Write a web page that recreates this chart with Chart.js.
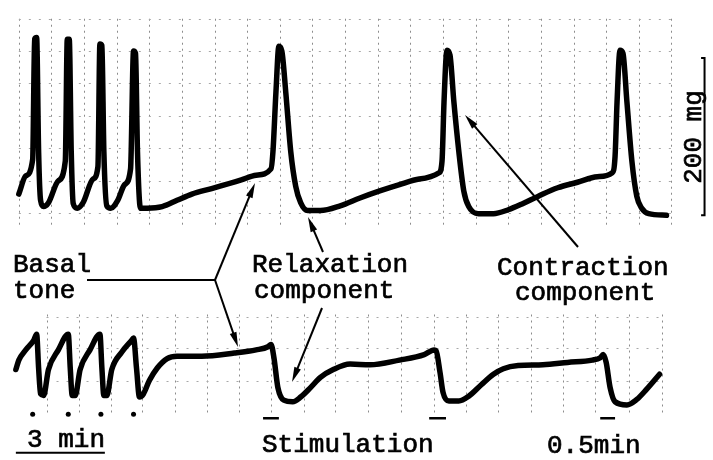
<!DOCTYPE html>
<html>
<head>
<meta charset="utf-8">
<script src="https://cdn.jsdelivr.net/npm/chart.js@4.4.1/dist/chart.umd.min.js"></script>
<style>
html, body { margin: 0; padding: 0; background: #fff; }
canvas { display: block; }
</style>
</head>
<body>
<canvas id="myChart" width="713" height="460"></canvas>
<script>
// time in seconds (3 min bar = 180 s), tension in mg
var topTime = [0, 14, 28, 32, 36, 40, 44, 50, 60, 80, 94, 98, 102, 106, 110, 118, 130, 150, 160, 164, 168, 172, 178, 186, 200, 214, 226, 232, 236, 240, 246, 260, 290, 320, 350, 390, 450, 480, 510, 514, 520, 526, 532, 540, 550, 560, 570, 584, 610, 650, 690, 730, 770, 810, 850, 856, 860, 866, 872, 880, 890, 900, 910, 930, 960, 990, 1020, 1050, 1090, 1130, 1170, 1200, 1206, 1210, 1216, 1222, 1230, 1240, 1250, 1260, 1274, 1310];
var topTension = [27, 50, 71, 224, 226, 81, 19, 11, 16, 44, 69, 224, 224, 81, 15, 9, 16, 46, 62, 218, 216, 81, 12, 9, 19, 39, 59, 209, 206, 81, 9, 9, 11, 19, 27, 34, 45, 51, 59, 81, 156, 215, 209, 156, 81, 37, 16, 6, 6, 12, 22, 31, 39, 46, 54, 69, 144, 210, 204, 144, 81, 31, 11, 2, 2, 7, 15, 24, 35, 42, 49, 54, 75, 144, 210, 206, 144, 69, 24, 9, 2, 0];

var bottomTime = [-6, 0, 14, 30, 36, 40, 44, 50, 60, 80, 100, 104, 108, 114, 124, 144, 164, 168, 172, 178, 188, 208, 228, 232, 238, 244, 252, 264, 280, 300, 320, 370, 436, 480, 504, 510, 516, 524, 536, 554, 570, 590, 610, 636, 670, 710, 770, 820, 840, 844, 852, 858, 870, 890, 910, 936, 960, 980, 1010, 1060, 1110, 1160, 1176, 1182, 1188, 1196, 1206, 1230, 1250, 1270, 1296];
var bottomTension = [45, 57, 70, 82, 90, 47, 14, 12, 45, 70, 90, 47, 12, 12, 45, 70, 90, 47, 12, 12, 45, 67, 82, 85, 47, 10, 14, 31, 47, 59, 62, 62, 66, 70, 74, 77, 60, 22, 6, 4, 10, 22, 35, 45, 52, 51, 57, 64, 70, 69, 41, 16, 5, 5, 11, 26, 39, 46, 50, 51, 54, 57, 60, 64, 54, 22, 4, 0, 7, 20, 39];

var dotTime = [28, 100, 166, 232];
var stimStart = [494, 830, 1176];
var stimEnd = [526, 864, 1206];

var timeBar = [-6, 174];      // 3 min
var tensionBar = [0, 200];    // 200 mg

var topGridTimes = [0, 66, 132, 198, 264, 330, 396, 462, 528, 594, 660, 726, 792, 858, 924, 990, 1056, 1122, 1188, 1254, 1320];
var topGridLevels = [250, 209, 168, 126, 85, 44, 3];
var bottomGridTimes = [56, 122, 186, 250, 316, 380, 446, 510, 576, 640, 706, 774, 840, 904, 970, 1036, 1100, 1166, 1234, 1300];
var bottomGridLevels = [112, 72, 31];

function pts(xs, ys) {
    var out = [];
    for (var i = 0; i < xs.length; i++) out.push({ x: xs[i], y: ys[i] });
    return out;
}

var stimData = [];
for (var i = 0; i < stimStart.length; i++) {
    stimData.push({ x: stimStart[i], y: -17 });
    stimData.push({ x: stimEnd[i], y: -17 });
    stimData.push({ x: stimEnd[i] + 1, y: null });
}

var paper = {
    id: 'paper',
    beforeDatasetsDraw: function (chart) {
        var c = chart.ctx, sx = chart.scales.x, yt = chart.scales.yTop, yb = chart.scales.yBot;
        c.save();
        c.strokeStyle = '#8c8c8c';
        c.lineWidth = 1;
        c.setLineDash([2, 4]);
        topGridTimes.forEach(function (t) {
            var px = Math.round(sx.getPixelForValue(t)) + 0.5;
            c.beginPath();
            c.moveTo(px, yt.getPixelForValue(250));
            c.lineTo(px, yt.getPixelForValue(-12));
            c.stroke();
        });
        bottomGridTimes.forEach(function (t) {
            var px = Math.round(sx.getPixelForValue(t)) + 0.5;
            c.beginPath();
            c.moveTo(px, yb.getPixelForValue(115));
            c.lineTo(px, yb.getPixelForValue(-10));
            c.stroke();
        });
        c.strokeStyle = '#a8a8a8';
        c.setLineDash([2, 8]);
        topGridLevels.forEach(function (v) {
            var py = Math.round(yt.getPixelForValue(v)) + 0.5;
            c.beginPath();
            c.moveTo(sx.getPixelForValue(0), py);
            c.lineTo(sx.getPixelForValue(1320), py);
            c.stroke();
        });
        bottomGridLevels.forEach(function (v) {
            var py = Math.round(yb.getPixelForValue(v)) + 0.5;
            c.beginPath();
            c.moveTo(sx.getPixelForValue(56), py);
            c.lineTo(sx.getPixelForValue(1300), py);
            c.stroke();
        });
        c.restore();
    }
};

function arrow(c, x1, y1, x2, y2) {
    var a = Math.atan2(y2 - y1, x2 - x1);
    c.beginPath();
    c.moveTo(x1, y1);
    c.lineTo(x2 - 8 * Math.cos(a), y2 - 8 * Math.sin(a));
    c.stroke();
    c.beginPath();
    c.moveTo(x2, y2);
    c.lineTo(x2 - 15 * Math.cos(a) + 3.5 * Math.sin(a), y2 - 15 * Math.sin(a) - 3.5 * Math.cos(a));
    c.lineTo(x2 - 15 * Math.cos(a) - 3.5 * Math.sin(a), y2 - 15 * Math.sin(a) + 3.5 * Math.cos(a));
    c.closePath();
    c.fill();
}

function word(c, s, x, y) {
    c.fillText(s, x, y);
    c.strokeText(s, x, y);
}

var labels = {
    id: 'labels',
    afterDraw: function (chart) {
        var c = chart.ctx;
        c.save();
        c.fillStyle = '#000';
        c.strokeStyle = '#000';
        c.lineWidth = 0.7;
        c.font = '26px "Liberation Mono", monospace';
        c.textBaseline = 'alphabetic';
        word(c, 'Basal', 13, 272);
        word(c, 'tone', 13, 298);
        word(c, 'Relaxation', 252, 272);
        word(c, 'component', 254, 298);
        word(c, 'Contraction', 497, 275);
        word(c, 'component', 515, 300);
        word(c, '3 min', 27, 447);
        word(c, 'Stimulation', 262, 452);
        word(c, '0.5min', 547, 453);

        c.save();
        c.translate(694, 137);
        c.rotate(-Math.PI / 2);
        c.textAlign = 'center';
        c.textBaseline = 'middle';
        word(c, '200 mg', 0, 0);
        c.restore();

        c.lineWidth = 2;
        c.beginPath();
        c.moveTo(87, 280);
        c.lineTo(215, 280);
        c.stroke();
        arrow(c, 215, 280, 255, 183);
        arrow(c, 215, 280, 238, 347);
        arrow(c, 323, 252, 308, 217);
        arrow(c, 322, 308, 292, 382);
        arrow(c, 578, 247, 465, 115);
        c.restore();
    }
};

var ctx = document.getElementById('myChart').getContext('2d');

var myChart = new Chart(ctx, {
    type: 'line',
    data: {
        datasets: [{
            label: 'Tension (top)',
            data: pts(topTime, topTension),
            yAxisID: 'yTop',
            borderColor: '#000',
            borderWidth: 5.5,
            borderJoinStyle: 'round',
            borderCapStyle: 'round',
            cubicInterpolationMode: 'monotone',
            pointRadius: 0,
            fill: false
        },
        {
            label: 'Tension (bottom)',
            data: pts(bottomTime, bottomTension),
            yAxisID: 'yBot',
            borderColor: '#000',
            borderWidth: 5.5,
            borderJoinStyle: 'round',
            borderCapStyle: 'round',
            cubicInterpolationMode: 'monotone',
            pointRadius: 0,
            fill: false
        },
        {
            label: 'Spontaneous',
            data: dotTime.map(function (t) { return { x: t, y: -12 }; }),
            yAxisID: 'yBot',
            showLine: false,
            pointRadius: 2.5,
            pointBackgroundColor: '#000',
            pointBorderWidth: 0
        },
        {
            label: 'Stimulation',
            data: stimData,
            yAxisID: 'yBot',
            borderColor: '#000',
            borderWidth: 2.5,
            spanGaps: false,
            pointRadius: 0
        },
        {
            label: '3 min',
            data: pts(timeBar, [-61, -61]),
            yAxisID: 'yBot',
            borderColor: '#000',
            borderWidth: 2,
            pointRadius: 0
        },
        {
            label: '200 mg',
            data: [{ x: 1380, y: tensionBar[1] }, { x: 1387, y: tensionBar[1] }, { x: 1387, y: tensionBar[0] }, { x: 1380, y: tensionBar[0] }],
            yAxisID: 'yTop',
            borderColor: '#000',
            borderWidth: 2,
            pointRadius: 0
        }]
    },
    options: {
        responsive: false,
        animation: false,
        devicePixelRatio: 1,
        layout: { padding: 0 },
        plugins: { legend: { display: false }, tooltip: { enabled: false } },
        scales: {
            x: { type: 'linear', min: -30, max: 1396, display: false },
            yTop: { type: 'linear', min: -306.25, max: 268.75, display: false },
            yBot: { type: 'linear', min: -65, max: 510, display: false }
        }
    },
    plugins: [paper, labels]
});
</script>
</body>
</html>
